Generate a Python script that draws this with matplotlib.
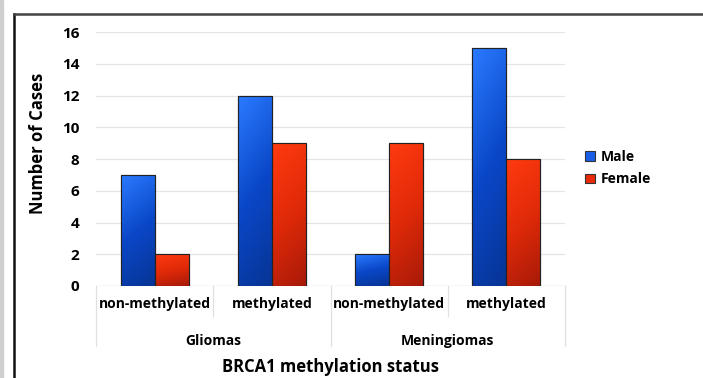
import numpy as np
import matplotlib
matplotlib.use("Agg")
import matplotlib.pyplot as plt
from matplotlib.lines import Line2D
from matplotlib.patches import Rectangle
from matplotlib.colors import LinearSegmentedColormap

plt.rcParams['font.family'] = ['Open Sans', 'DejaVu Sans']

groups = ["Gliomas", "Meningiomas"]
statuses = ["non-methylated", "methylated"]
male = [7, 12, 2, 15]
female = [2, 9, 9, 8]
series = ["Male", "Female"]

blue_cmap = LinearSegmentedColormap.from_list("b", ["#2b7bff", "#0a47c8", "#073494"])
red_cmap = LinearSegmentedColormap.from_list("r", ["#ff3a10", "#e02a08", "#a81a08"])

fig = plt.figure(figsize=(7.03, 3.78), dpi=100)
ax = fig.add_axes([0.1366, 0.2434, 0.6671, 0.6719])

x = np.arange(len(male))
w = 0.29
bars_m = ax.bar(x - w / 2, male, w, color="#1a5ee8", edgecolor="#222222", linewidth=0.8, zorder=3, label=series[0])
bars_f = ax.bar(x + w / 2, female, w, color="#e82a08", edgecolor="#222222", linewidth=0.8, zorder=3, label=series[1])

# gradient fill clipped to each bar (bright top-left, darker bottom-right)
grad = np.linspace(0, 1, 100).reshape(-1, 1) * 0.8 + np.linspace(0, 1, 30).reshape(1, -1) * 0.2
for bars, cmap in [(bars_m, blue_cmap), (bars_f, red_cmap)]:
    for b in bars:
        x0, y0 = b.get_x(), b.get_y()
        bw, bh = b.get_width(), b.get_height()
        im = ax.imshow(grad, cmap=cmap, extent=[x0, x0 + bw, y0, y0 + bh], aspect="auto", zorder=3.5, origin="upper")
        im.set_clip_path(b)
        edge = Rectangle((x0, y0), bw, bh, fill=False, edgecolor="#222222", linewidth=0.8, zorder=4)
        ax.add_patch(edge)

ax.set_xlim(-0.5, len(male) - 0.5)
ax.set_ylim(0, 16)
ax.set_yticks(range(0, 17, 2))
ax.yaxis.grid(True, color="#e4e4e4", linewidth=0.9, zorder=0)
ax.set_axisbelow(True)
for s in ax.spines.values():
    s.set_visible(False)
ax.tick_params(axis="y", length=0, pad=12, labelsize=11)
for t in ax.get_yticklabels():
    t.set_fontweight("bold")
ax.set_xticks(x)
ax.set_xticklabels(statuses * 2, fontsize=10, fontweight="bold")
ax.tick_params(axis="x", length=0, pad=8)

# group labels and separators below axis
trans = ax.get_xaxis_transform()
for i, g in enumerate(groups):
    ax.text(2 * i + 0.5, -0.215, g, transform=trans, ha="center", va="center",
            fontsize=10, fontweight="bold")
for xs in [-0.5, 1.5, 3.5]:
    ax.add_line(Line2D([xs, xs], [0, -0.235], transform=trans, color="#e0e0e0", linewidth=0.9, clip_on=False))
for xs in [0.5, 2.5]:
    ax.add_line(Line2D([xs, xs], [0, -0.12], transform=trans, color="#e0e0e0", linewidth=0.9, clip_on=False))
ax.axhline(0, color="#e0e0e0", linewidth=0.9, zorder=1)

ax.set_ylabel("Number of Cases", fontsize=12, fontweight="bold")
ax.yaxis.set_label_coords(-0.105, 0.56)
ax.text(0.5, -0.32, "BRCA1 methylation status", transform=ax.transAxes, ha="center", va="center",
        fontsize=12, fontweight="bold")

handles = [Rectangle((0, 0), 1, 1, facecolor="#1a5ee8", edgecolor="#333333", linewidth=0.8),
           Rectangle((0, 0), 1, 1, facecolor="#e82a08", edgecolor="#333333", linewidth=0.8)]
leg = fig.legend(handles, series, loc="center left", bbox_to_anchor=(0.815, 0.555), frameon=False,
                 handlelength=0.7, handleheight=0.7, handletextpad=0.4, labelspacing=0.6,
                 prop={"size": 10, "weight": "bold"})

# outer frame
fig.add_artist(Line2D([0.0199, 0.0199], [0, 0.963], transform=fig.transFigure, color="#111111", linewidth=1.8))
fig.add_artist(Line2D([0.0199, 1.0], [0.963, 0.963], transform=fig.transFigure, color="#444444", linewidth=1.8))
fig.add_artist(Rectangle((0, 0), 0.004, 1, transform=fig.transFigure, color="#cfcfcf"))

fig.savefig("out.png", dpi=100)
